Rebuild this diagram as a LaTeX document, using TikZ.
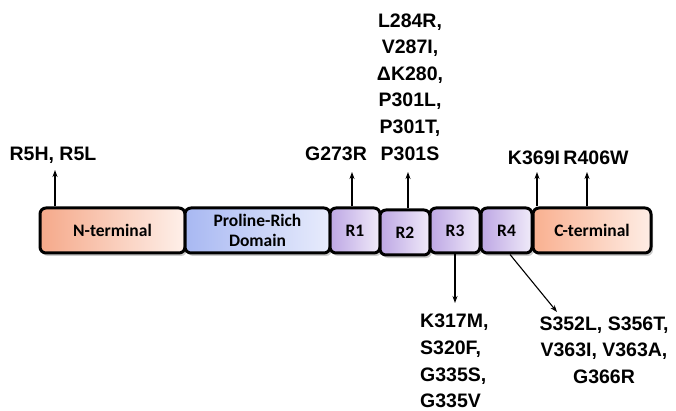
\documentclass[tikz,border=0pt]{standalone}
\usepackage{fontspec}
\setmainfont{Liberation Sans}
\newfontfamily\boxfont{Carlito}
\usetikzlibrary{arrows.meta,shadows}
\definecolor{nbeg}{HTML}{F5A98A}
\definecolor{nend}{HTML}{FEF0EA}
\definecolor{pbeg}{HTML}{A8B8F2}
\definecolor{pend}{HTML}{E8ECFC}
\definecolor{rbeg}{HTML}{BDA6E4}
\definecolor{rend}{HTML}{F0EBF9}
\definecolor{cbeg}{HTML}{F9B090}
\definecolor{cend}{HTML}{FEEDE5}
\begin{document}
\begin{tikzpicture}[x=1pt, y=-1pt,
    protpart/.style={draw=black, line width=3pt, rounded corners=6pt, minimum height=45pt,
        font={\boxfont\fontsize{17.5}{20}\selectfont\bfseries}, align=center,
        drop shadow={shadow xshift=2pt, shadow yshift=-3pt, opacity=0.4}},
    mutlabel/.style={font={\fontsize{19.5}{26.6}\selectfont\bfseries}, inner sep=0pt},
    mut/.style={-{Stealth[length=7pt,width=5pt]}, line width=1.1pt}]
    \useasboundingbox (0,0) rectangle (676,411);
    % domains of the protein
    \node[protpart, minimum width=145pt, left color=nbeg, right color=nend] (nterm) at (112.5,230.5) {N-terminal};
    \node[protpart, minimum width=145pt, left color=pbeg, right color=pend] (prd) at (257.5,230.5) {Proline-Rich\\Domain};
    \node[protpart, minimum width=50pt, left color=rbeg, right color=rend] (rone) at (355,230.5) {R1};
    \node[protpart, minimum width=50pt, left color=rbeg, right color=rend] (rtwo) at (405,232.5) {R2};
    \node[protpart, minimum width=50pt, left color=rbeg, right color=rend] (rthree) at (455,230.5) {R3};
    \node[protpart, minimum width=51pt, left color=rbeg, right color=rend] (rfour) at (506.5,230.5) {R4};
    \node[protpart, minimum width=118pt, left color=cbeg, right color=cend] (cterm) at (592,230.5) {C-terminal};
    % mutation labels
    \node[mutlabel] (mutnterm) at (53,155) {R5H, R5L};
    \node[mutlabel] (mutrone) at (336,154) {G273R};
    \node[mutlabel, align=center] (mutrtwo) at (410,87) {L284R,\\V287I,\\ΔK280,\\P301L,\\P301T,\\P301S};
    \node[mutlabel] (mutk) at (534,158) {K369I};
    \node[mutlabel] (mutr) at (596,158) {R406W};
    \node[mutlabel, align=left, anchor=west] (mutrthree) at (420,361) {K317M,\\S320F,\\G335S,\\G335V};
    \node[mutlabel, align=center] (mutrfour) at (604,350) {S352L, S356T,\\V363I, V363A,\\G366R};
    % arrow ends
    \coordinate (tipn) at (55,170);
    \coordinate (tipone) at (352,172);
    \coordinate (tiptwo) at (408,172);
    \coordinate (tipk) at (537,172);
    \coordinate (tipr) at (587,172);
    \coordinate (tipthree) at (455,303);
    \coordinate (tipfour) at (557,312);
    \draw[mut] (nterm.north -| tipn) -- (tipn);
    \draw[mut] (rone.north -| tipone) -- (tipone);
    \draw[mut] (rtwo.north -| tiptwo) -- (tiptwo);
    \draw[mut] (cterm.north -| tipk) -- (tipk);
    \draw[mut] (cterm.north -| tipr) -- (tipr);
    \draw[mut] (rthree.south) -- (tipthree);
    \draw[mut] ([xshift=3.5pt]rfour.south) -- (tipfour);
\end{tikzpicture}
\end{document}
